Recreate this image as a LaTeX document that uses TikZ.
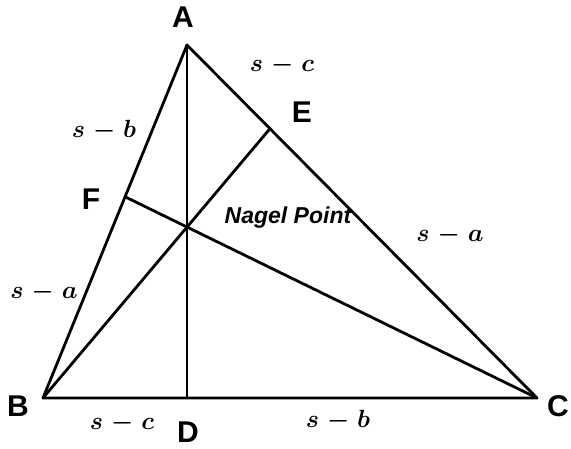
\documentclass[tikz,border=0pt]{standalone}
\usepackage{fontspec}
\setmainfont{Liberation Sans}
\usetikzlibrary{calc}
\medmuskip=5mu
\begin{document}
\begin{tikzpicture}[x=1pt,y=-1pt,
  edge/.style={line width=2.8pt,line cap=round,line join=round},
  vlabel/.style={font=\fontsize{30}{32}\selectfont\bfseries,inner sep=0pt},
  slabel/.style={font=\fontsize{23}{26}\selectfont\boldmath,inner sep=0pt},
  plabel/.style={font=\fontsize{23}{25}\selectfont\bfseries\itshape,inner sep=0pt}]
\useasboundingbox (0,0) rectangle (571,448);
\coordinate (A) at (187,45);
\coordinate (B) at (43,398);
\coordinate (C) at (537,398);
\coordinate (D) at (187,398);
\coordinate (E) at ($(A)!0.237!(C)$);
\coordinate (F) at ($(A)!0.43!(B)$);
\coordinate (N) at (intersection of A--D and B--E);
\draw[edge] (A) -- (B) -- (C) -- cycle;
\draw[edge] (A) -- (D);
\draw[edge] (B) -- (E);
\draw[edge] (C) -- (F);
\node[vlabel] (lA) at (183,17) {A};
\node[vlabel] (lB) at (18,406) {B};
\node[vlabel] (lC) at (558,406) {C};
\node[vlabel] (lD) at (188,432) {D};
\node[vlabel] (lE) at (302,112) {E};
\node[vlabel] (lF) at (91,199) {F};
\node[slabel] (s1) at (282,65) {$s-c$};
\node[slabel] (s2) at (104,131) {$s-b$};
\node[slabel] (s3) at (44,292) {$s-a$};
\node[slabel] (s4) at (450,235) {$s-a$};
\node[slabel] (s5) at (122,423) {$s-c$};
\node[slabel] (s6) at (338,421) {$s-b$};
\node[plabel] (np) at (288,218) {Nagel Point};
\end{tikzpicture}
\end{document}
